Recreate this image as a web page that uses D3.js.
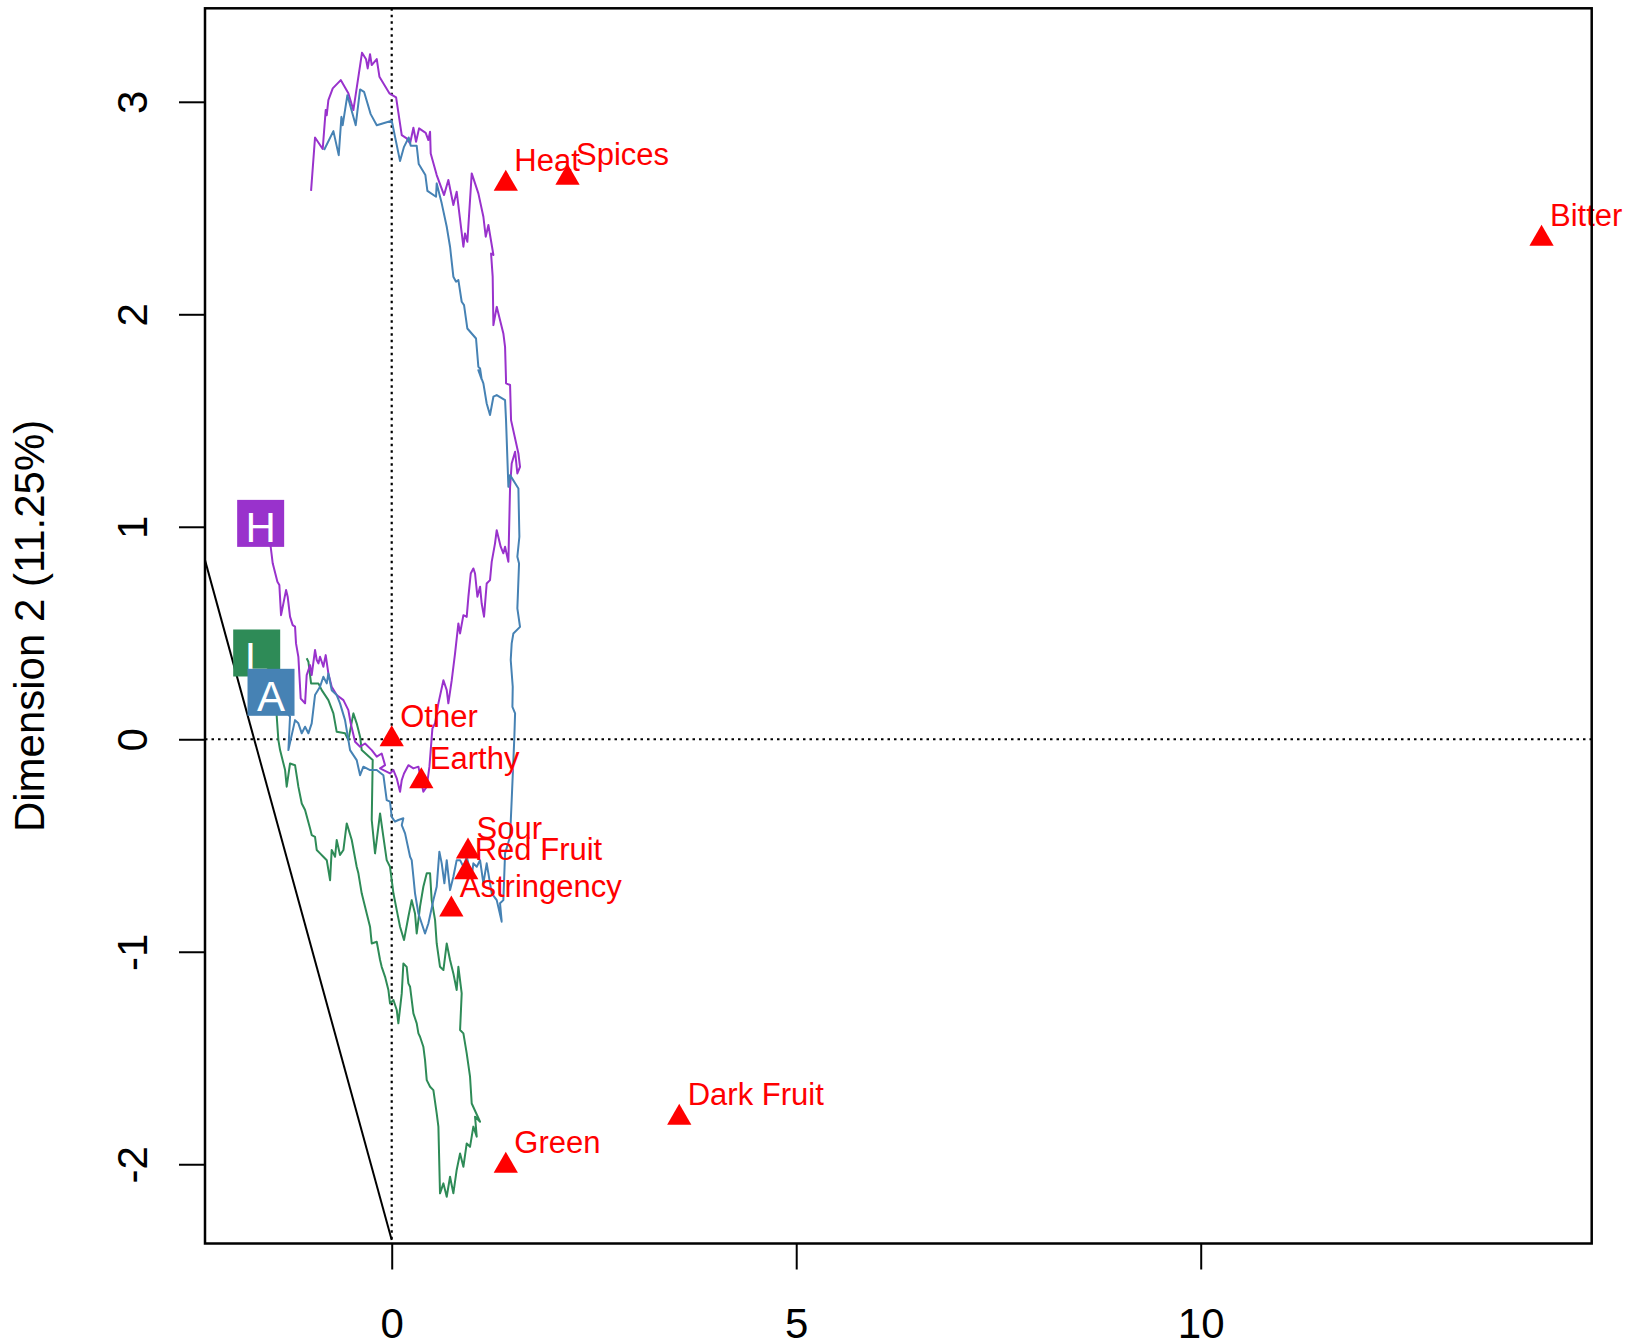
<!DOCTYPE html>
<html>
<head>
<meta charset="utf-8">
<script src="https://cdn.jsdelivr.net/npm/d3@7"></script>
<style>
  html, body { margin: 0; padding: 0; background: #fff; }
  svg { display: block; font-family: "Liberation Sans", Arial, Helvetica, sans-serif; }
</style>
</head>
<body>
<svg id="chart" width="1627" height="1343"></svg>
<script>
// Attribute coordinates (red triangles)
const attrNames = ["Heat", "Spices", "Bitter", "Other", "Earthy", "Sour", "Red Fruit", "Astringency", "Dark Fruit", "Green"];
const attrX = [1.410, 2.173, 14.213, 0.000, 0.366, 0.943, 0.921, 0.737, 3.554, 1.410];
const attrY = [2.614, 2.642, 2.355, 0.000, -0.198, -0.528, -0.626, -0.801, -1.781, -2.007];

// Trajectory labels: start position of each product path
const trajNames = ["H", "L", "A"];
const trajColors = ["#9932CC", "#2E8B57", "#4682B4"];
const trajStart = [[-1.620, 1.016], [-1.669, 0.406], [-1.492, 0.221]];

// H trajectory (x, y pairs)
const trajH = [
  [-1.620, 1.016], [-1.496, 0.906], [-1.471, 0.828], [-1.413, 0.741], [-1.389, 0.726], [-1.368, 0.584],
  [-1.306, 0.702], [-1.286, 0.671], [-1.257, 0.577], [-1.224, 0.537], [-1.195, 0.530], [-1.183, 0.451],
  [-1.154, 0.388], [-1.125, 0.192], [-1.071, 0.169], [-1.051, 0.302], [-1.009, 0.349], [-0.989, 0.302],
  [-0.948, 0.420], [-0.927, 0.373], [-0.906, 0.357], [-0.886, 0.388], [-0.865, 0.365], [-0.845, 0.341],
  [-0.816, 0.396], [-0.783, 0.310], [-0.742, 0.247], [-0.680, 0.208], [-0.597, 0.184], [-0.536, 0.137],
  [-0.507, 0.075], [-0.453, -0.012], [-0.391, -0.035], [-0.330, -0.020], [-0.247, -0.051], [-0.185, -0.082],
  [-0.124, -0.067], [-0.082, -0.122], [-0.144, -0.137], [-0.021, -0.161], [0.021, -0.145], [0.062, -0.184],
  [0.103, -0.247], [0.124, -0.192], [0.152, -0.161], [0.206, -0.122], [0.268, -0.137], [0.330, -0.129],
  [0.391, -0.247], [0.433, -0.223], [0.466, -0.129], [0.503, 0.051], [0.536, 0.075], [0.577, 0.169],
  [0.639, 0.278], [0.680, 0.231], [0.700, 0.169], [0.742, 0.278], [0.783, 0.404], [0.824, 0.545],
  [0.845, 0.498], [0.886, 0.584], [0.927, 0.576], [0.948, 0.671], [0.977, 0.780], [1.009, 0.804],
  [1.030, 0.780], [1.059, 0.671], [1.092, 0.718], [1.112, 0.639], [1.141, 0.577], [1.174, 0.733],
  [1.215, 0.749], [1.236, 0.835], [1.277, 0.922], [1.298, 0.984], [1.347, 0.906], [1.380, 0.875],
  [1.401, 0.906], [1.442, 0.835], [1.463, 1.188], [1.483, 1.298], [1.525, 1.353], [1.553, 1.251],
  [1.586, 1.282], [1.566, 1.345], [1.475, 1.502], [1.463, 1.667], [1.413, 1.675], [1.413, 1.690],
  [1.401, 1.847], [1.380, 1.910], [1.298, 2.035], [1.257, 1.949], [1.248, 2.177], [1.228, 2.286],
  [1.257, 2.279], [1.195, 2.420], [1.162, 2.365], [1.133, 2.459], [1.071, 2.569], [0.989, 2.663],
  [0.935, 2.341], [0.906, 2.380], [0.886, 2.318], [0.803, 2.577], [0.762, 2.514], [0.700, 2.632],
  [0.647, 2.561], [0.556, 2.655], [0.482, 2.757], [0.474, 2.859], [0.453, 2.820], [0.420, 2.854],
  [0.338, 2.875], [0.301, 2.812], [0.268, 2.878], [0.227, 2.804], [0.185, 2.828], [0.124, 2.843],
  [0.054, 3.021], [-0.029, 3.040], [-0.152, 3.118], [-0.185, 3.201], [-0.247, 3.173], [-0.268, 3.224],
  [-0.297, 3.157], [-0.317, 3.200], [-0.367, 3.231], [-0.474, 2.961], [-0.536, 3.040], [-0.630, 3.102],
  [-0.729, 3.063], [-0.783, 3.008], [-0.803, 2.937], [-0.816, 2.961], [-0.853, 2.778], [-0.948, 2.832],
  [-0.997, 2.581]
];

// L trajectory
const trajL = [
  [-1.669, 0.406], [-1.430, 0.184], [-1.421, 0.106], [-1.401, -0.004], [-1.380, -0.051], [-1.318, -0.145],
  [-1.298, -0.223], [-1.257, -0.114], [-1.195, -0.122], [-1.166, -0.192], [-1.154, -0.223], [-1.112, -0.302],
  [-1.071, -0.333], [-1.009, -0.420], [-0.989, -0.451], [-0.948, -0.459], [-0.927, -0.521], [-0.886, -0.537],
  [-0.845, -0.553], [-0.803, -0.569], [-0.762, -0.663], [-0.742, -0.521], [-0.700, -0.553], [-0.680, -0.474],
  [-0.639, -0.545], [-0.597, -0.521], [-0.556, -0.396], [-0.494, -0.474], [-0.433, -0.600], [-0.412, -0.631],
  [-0.371, -0.725], [-0.309, -0.820], [-0.268, -0.882], [-0.247, -0.961], [-0.185, -0.953], [-0.144, -1.039],
  [-0.124, -1.071], [-0.082, -1.118], [-0.041, -1.180], [-0.021, -1.243], [0.021, -1.227], [0.062, -1.274],
  [0.082, -1.337], [0.124, -1.196], [0.144, -1.055], [0.185, -1.071], [0.206, -1.149], [0.227, -1.165],
  [0.268, -1.290], [0.309, -1.337], [0.330, -1.384], [0.350, -1.400], [0.391, -1.447], [0.412, -1.510],
  [0.433, -1.604], [0.474, -1.635], [0.515, -1.651], [0.556, -1.761], [0.577, -1.823], [0.597, -2.137],
  [0.639, -2.090], [0.680, -2.153], [0.721, -2.059], [0.762, -2.137], [0.803, -2.027], [0.845, -1.949],
  [0.886, -2.012], [0.927, -1.902], [0.968, -1.918], [1.009, -1.823], [1.051, -1.870], [1.030, -1.776],
  [1.092, -1.800], [0.989, -1.714], [0.968, -1.588], [0.927, -1.478], [0.886, -1.384], [0.845, -1.368],
  [0.865, -1.196], [0.824, -1.071], [0.803, -1.180], [0.762, -1.102], [0.721, -1.039], [0.680, -0.961],
  [0.639, -1.086], [0.597, -1.071], [0.556, -0.961], [0.536, -0.851], [0.494, -0.757], [0.474, -0.631],
  [0.433, -0.631], [0.391, -0.694], [0.350, -0.788], [0.330, -0.851], [0.309, -0.914], [0.288, -0.820],
  [0.247, -0.757], [0.206, -0.835], [0.152, -0.945], [0.103, -0.882], [0.062, -0.804], [0.021, -0.725],
  [-0.021, -0.600], [-0.062, -0.569], [-0.103, -0.459], [-0.144, -0.349], [-0.206, -0.537], [-0.247, -0.380],
  [-0.235, -0.098], [-0.371, -0.051], [-0.391, 0.012], [-0.433, 0.075], [-0.474, 0.122], [-0.536, -0.004],
  [-0.577, 0.028], [-0.680, 0.035], [-0.721, 0.122], [-0.783, 0.184], [-0.865, 0.231], [-0.906, 0.263],
  [-0.997, 0.263], [-1.030, 0.365], [-1.051, 0.381]
];

// A trajectory
const trajA = [
  [-1.492, 0.221], [-1.257, 0.106], [-1.277, -0.051], [-1.195, 0.090], [-1.154, 0.075], [-1.112, 0.028],
  [-1.071, 0.059], [-1.030, 0.028], [-0.989, 0.075], [-0.948, 0.208], [-0.886, 0.247], [-0.845, 0.294],
  [-0.803, 0.263], [-0.783, 0.310], [-0.742, 0.231], [-0.680, 0.208], [-0.639, 0.169], [-0.577, 0.090],
  [-0.515, -0.051], [-0.433, -0.098], [-0.391, -0.169], [-0.350, -0.129], [-0.268, -0.145], [-0.185, -0.145],
  [-0.103, -0.169], [-0.062, -0.286], [-0.021, -0.294], [0.000, -0.365], [0.041, -0.388], [0.082, -0.380],
  [0.144, -0.372], [0.124, -0.404], [0.165, -0.443], [0.227, -0.553], [0.247, -0.569], [0.268, -0.647],
  [0.288, -0.725], [0.330, -0.820], [0.371, -0.867], [0.412, -0.914], [0.453, -0.867], [0.515, -0.757],
  [0.556, -0.694], [0.589, -0.529], [0.618, -0.584], [0.651, -0.678], [0.680, -0.569], [0.721, -0.710],
  [0.762, -0.647], [0.803, -0.569], [0.845, -0.569], [0.886, -0.600], [0.927, -0.553], [0.989, -0.647],
  [1.009, -0.584], [1.051, -0.600], [1.092, -0.569], [1.133, -0.678], [1.174, -0.584], [1.236, -0.725],
  [1.298, -0.757], [1.360, -0.859], [1.339, -0.772], [1.380, -0.757], [1.401, -0.537], [1.463, -0.459],
  [1.483, -0.286], [1.504, -0.098], [1.516, 0.012], [1.525, 0.122], [1.492, 0.153], [1.496, 0.247],
  [1.471, 0.373], [1.483, 0.451], [1.504, 0.498], [1.586, 0.529], [1.553, 0.616], [1.574, 0.827],
  [1.553, 0.859], [1.578, 0.953], [1.566, 1.180], [1.463, 1.243], [1.442, 1.188], [1.413, 1.502],
  [1.401, 1.596], [1.298, 1.620], [1.257, 1.612], [1.215, 1.526], [1.174, 1.580], [1.133, 1.675],
  [1.071, 1.737], [1.112, 1.693], [1.092, 1.745], [1.071, 1.753], [1.042, 1.886], [0.935, 1.933],
  [0.894, 2.043], [0.865, 2.059], [0.824, 2.161], [0.795, 2.153], [0.762, 2.177], [0.721, 2.318],
  [0.680, 2.412], [0.618, 2.522], [0.556, 2.616], [0.548, 2.553], [0.441, 2.581], [0.416, 2.655],
  [0.334, 2.707], [0.309, 2.793], [0.235, 2.793], [0.210, 2.832], [0.152, 2.788], [0.103, 2.721],
  [0.000, 2.911], [-0.185, 2.890], [-0.260, 2.942], [-0.342, 3.047], [-0.391, 3.058], [-0.445, 2.890],
  [-0.548, 3.031], [-0.606, 2.890], [-0.622, 2.929], [-0.655, 2.749], [-0.721, 2.862], [-0.836, 2.773]
];

// Reference segment drawn from the left edge down to the origin column
const refSegment = [[-2.308, 0.843], [0.000, -2.357]];

const xTicks = [0, 5, 10];
const yTicks = [-2, -1, 0, 1, 2, 3];
const yTitle = "Dimension 2 (11.25%)";

// ---- layout ----
const pLeft = 205, pRight = 1591.7, pTop = 8.3, pBottom = 1243.5;
const svg = d3.select("#chart");

const x = d3.scaleLinear().domain([-2.308, 14.833]).range([pLeft, pRight]);
const y = d3.scaleLinear().domain([-2.373, 3.440]).range([pBottom, pTop]);

svg.append("defs").append("clipPath").attr("id", "plotClip")
  .append("rect").attr("x", pLeft).attr("y", pTop).attr("width", pRight - pLeft).attr("height", pBottom - pTop);

const plot = svg.append("g").attr("clip-path", "url(#plotClip)");

// dotted reference axes
plot.append("line")
  .attr("x1", x(-2.308)).attr("x2", x(14.833)).attr("y1", y(0)).attr("y2", y(0))
  .attr("stroke", "#000").attr("stroke-width", 2.2).attr("stroke-dasharray", "2.5,4");
plot.append("line")
  .attr("x1", x(0)).attr("x2", x(0)).attr("y1", y(3.440)).attr("y2", y(-2.373))
  .attr("stroke", "#000").attr("stroke-width", 2.2).attr("stroke-dasharray", "2.5,4");

// solid reference segment
plot.append("line")
  .attr("x1", x(refSegment[0][0])).attr("y1", y(refSegment[0][1]))
  .attr("x2", x(refSegment[1][0])).attr("y2", y(refSegment[1][1]))
  .attr("stroke", "#000").attr("stroke-width", 2);

// trajectories
const line = d3.line().x(d => x(d[0])).y(d => y(d[1]));
const trajData = [trajH, trajL, trajA];
[1, 0, 2].forEach(i => {
  plot.append("path")
    .attr("d", line(trajData[i]))
    .attr("fill", "none")
    .attr("stroke", trajColors[i])
    .attr("stroke-width", 2)
    .attr("stroke-linejoin", "round");
});

// start boxes
trajNames.forEach((name, i) => {
  const cx = x(trajStart[i][0]), cy = y(trajStart[i][1]);
  plot.append("rect")
    .attr("x", cx - 23.5).attr("y", cy - 23.5).attr("width", 47).attr("height", 47)
    .attr("fill", trajColors[i]);
  plot.append("text")
    .attr("x", cx).attr("y", cy + 19)
    .attr("text-anchor", "middle")
    .attr("fill", "#fff")
    .attr("font-size", 42)
    .text(name);
});

// attribute triangles (R pch 17 geometry: apex at +r, base at -r/2)
const r = 14;
const tri = d3.line()([[0, -r], [r * 0.866, r / 2], [-r * 0.866, r / 2]]) + "Z";
attrNames.forEach((name, i) => {
  svg.append("path")
    .attr("d", tri)
    .attr("transform", `translate(${x(attrX[i])},${y(attrY[i])})`)
    .attr("fill", "#FF0000");
});
attrNames.forEach((name, i) => {
  svg.append("text")
    .attr("x", x(attrX[i]) + 8.5)
    .attr("y", y(attrY[i]) - 12.5)
    .attr("fill", "#FF0000")
    .attr("font-size", 31)
    .text(name);
});

// axes
const xAxis = svg.append("g")
  .attr("transform", `translate(0,${pBottom})`)
  .call(d3.axisBottom(x).tickValues(xTicks).tickSize(26).tickPadding(39).tickFormat(d3.format("d")));
xAxis.select(".domain").remove();
xAxis.selectAll(".tick line").attr("stroke", "#000").attr("stroke-width", 2);
xAxis.selectAll(".tick text").attr("font-size", 42).attr("font-family", null).attr("fill", "#000");

const yAxis = svg.append("g")
  .attr("transform", `translate(${pLeft},0)`)
  .call(d3.axisLeft(y).tickValues(yTicks).tickSize(26).tickFormat(d3.format("d")));
yAxis.select(".domain").remove();
yAxis.selectAll(".tick line").attr("stroke", "#000").attr("stroke-width", 2);
yAxis.selectAll(".tick text")
  .attr("x", null).attr("dy", null)
  .attr("transform", "translate(-58.3,0) rotate(-90)")
  .attr("text-anchor", "middle")
  .attr("font-size", 42).attr("font-family", null).attr("fill", "#000")
  .text(d => d < 0 ? "-" + Math.abs(d) : String(d));

// plot frame
svg.append("rect")
  .attr("x", pLeft).attr("y", pTop).attr("width", pRight - pLeft).attr("height", pBottom - pTop)
  .attr("fill", "none").attr("stroke", "#000").attr("stroke-width", 2.5);

// y title
svg.append("text")
  .attr("transform", `translate(43.5,${(pTop + pBottom) / 2}) rotate(-90)`)
  .attr("text-anchor", "middle")
  .attr("font-size", 42)
  .attr("fill", "#000")
  .text(yTitle);
</script>
</body>
</html>
